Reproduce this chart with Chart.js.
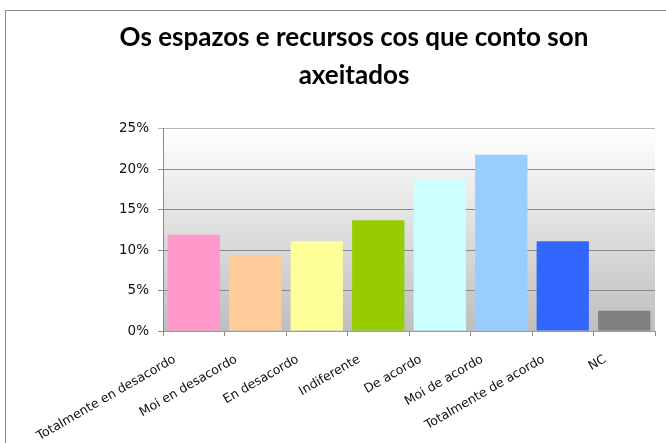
<!DOCTYPE html>
<html>
<head>
<meta charset="utf-8">
<script src="https://cdn.jsdelivr.net/npm/chart.js@4/dist/chart.umd.min.js"></script>
<style>
  html, body { margin: 0; padding: 0; background: #fff; }
  #wrap { width: 666px; height: 443px; }
</style>
</head>
<body>
<div id="wrap"><canvas id="graph"></canvas></div>
<script>
// Datos
const titleLines = ['Os espazos e recursos cos que conto son', 'axeitados'];
const categories = ['Totalmente en desacordo', 'Moi en desacordo', 'En desacordo', 'Indiferente',
                    'De acordo', 'Moi de acordo', 'Totalmente de acordo', 'NC'];
const percents = [11.9, 9.3, 11.1, 13.7, 18.7, 21.8, 11.1, 2.5];
const barColors = ['#FF99CC', '#FFCC99', '#FFFF99', '#99CC00', '#CCFFFF', '#99CCFF', '#3366FF', '#808080'];

// Marco exterior y fondo degradado del área de trazado
const framePlugin = {
    id: 'frame',
    beforeDraw(chart) {
        const c = chart.ctx;
        c.save();
        c.fillStyle = '#ffffff';
        c.fillRect(0, 0, chart.width, chart.height);
        c.strokeStyle = '#8c8c8c';
        c.lineWidth = 1;
        c.strokeRect(5.5, 10.5, chart.width + 20, chart.height + 20);
        const a = chart.chartArea;
        const g = c.createLinearGradient(0, a.top, 0, a.bottom);
        g.addColorStop(0, '#ffffff');
        g.addColorStop(1, '#bebebe');
        c.fillStyle = g;
        c.fillRect(a.left, a.top, a.right - a.left, a.bottom - a.top);
        c.restore();
    }
};

new Chart(document.getElementById('graph'), {
    type: 'bar',
    data: {
        labels: categories,
        datasets: [{
            data: percents,
            backgroundColor: barColors,
            borderWidth: 0,
            barPercentage: 0.85,
            categoryPercentage: 1
        }]
    },
    options: {
        responsive: true,
        maintainAspectRatio: false,
        animation: false,
        layout: { padding: { left: 53, right: 11, top: 0, bottom: 0 } },
        scales: {
            x: {
                grid: { drawOnChartArea: false, offset: true, tickLength: 5, color: '#8c8c8c' },
                border: { color: '#9a9a9a' },
                ticks: {
                    minRotation: 30, maxRotation: 30, autoSkip: false,
                    color: '#111', padding: 16, labelOffset: -19,
                    font: { family: 'DejaVu Sans', size: 12.5 }
                },
                afterFit(scale) { scale.height = 112; }
            },
            y: {
                min: 0, max: 25,
                ticks: {
                    stepSize: 5, color: '#111', padding: 9,
                    font: { family: 'DejaVu Sans', size: 13.5 },
                    callback: v => v + '%'
                },
                grid: {
                    tickLength: 5,
                    color: ctx => ctx.tick && ctx.tick.value === 25 ? '#b4b4b4' : '#8a8a8a'
                },
                border: { color: '#8a8a8a' },
                afterFit(scale) { scale.width = 110; }
            }
        },
        plugins: {
            legend: { display: false },
            tooltip: { enabled: false },
            title: {
                display: true,
                text: titleLines,
                color: '#000',
                font: { family: 'Lato', size: 26, weight: 'bold', lineHeight: 1.46 },
                padding: { top: 19, bottom: 34 }
            }
        }
    },
    plugins: [framePlugin]
});
</script>
</body>
</html>
